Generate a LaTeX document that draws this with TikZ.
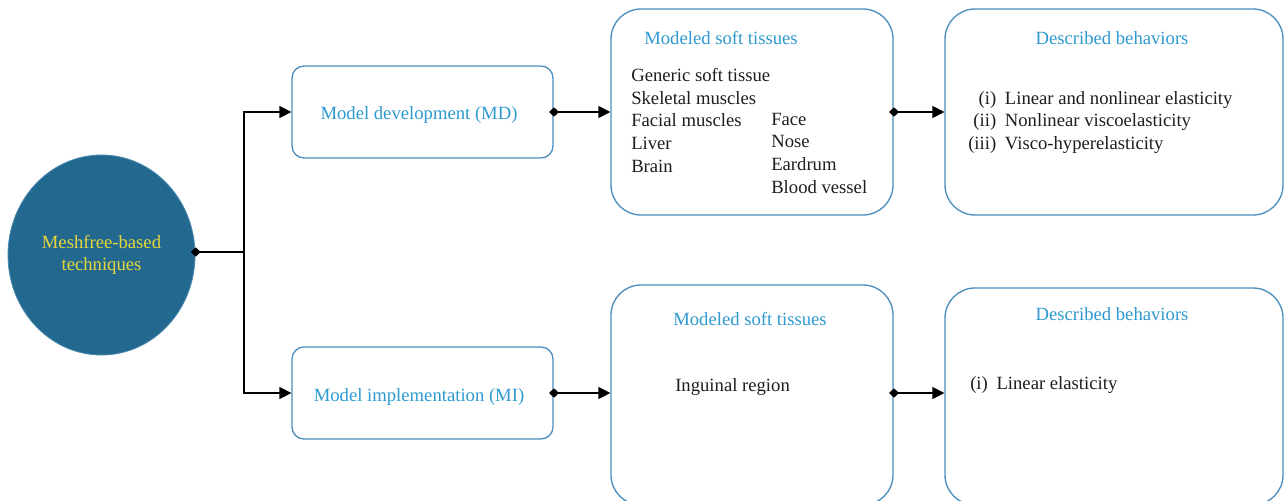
\documentclass[tikz,border=0pt]{standalone}
\usepackage{fontspec}
\setmainfont{Liberation Serif}
\usetikzlibrary{arrows.meta,shapes.geometric}
\definecolor{ellfill}{HTML}{23698F}
\definecolor{ellline}{HTML}{4A8AB0}
\definecolor{ylw}{HTML}{E6D63C}
\definecolor{ttl}{HTML}{2E9AD0}
\definecolor{boxline}{HTML}{4C8EBE}
\definecolor{txt}{HTML}{1E1E1E}
\tikzset{
  txtfont/.style={font=\fontsize{14}{17}\selectfont},
  roundbox/.style={draw=boxline, line width=1pt, fill=white, inner sep=0pt},
  smallbox/.style={roundbox, rounded corners=9pt, minimum width=195.75pt, minimum height=69pt},
  bigbox/.style={roundbox, rounded corners=22.5pt},
  ttltext/.style={txtfont, text=ttl, inner sep=0pt, anchor=base},
  bodytext/.style={txtfont, text=txt, inner sep=0pt, anchor=base west},
  conn/.style={draw=black, line width=1.1pt, {Diamond[length=7.5pt,width=7pt]}-{Triangle[length=9pt,width=9pt]}, shorten <=-3.5pt},
  trunk/.style={draw=black, line width=1.1pt},
  branch/.style={draw=black, line width=1.1pt, -{Triangle[length=9pt,width=9pt]}},
}
\begin{document}
\begin{tikzpicture}[x=0.75pt,y=-0.75pt]
\useasboundingbox (0,0) rectangle (1284,500);
\clip (0,0) rectangle (1284,500);
% ellipse
\node[ellipse, fill=ellfill, draw=ellline, line width=0.6pt, minimum width=140.25pt, minimum height=150pt, inner sep=0pt, text=ylw, align=center, txtfont] (ell) at (101.5,255) {Meshfree-based\\techniques};
% small boxes
\node[smallbox] (md) at (422.5,112) {};
\node[smallbox] (mi) at (422.5,393) {};
\node[ttltext] (mdtext) at (419,119) {Model development (MD)};
\node[ttltext] (mitext) at (419,401) {Model implementation (MI)};
% big boxes
\node[bigbox, minimum width=211.5pt, minimum height=154.5pt] (tis1) at (752,112) {};
\node[bigbox, minimum width=253.5pt, minimum height=154.5pt] (beh1) at (1114,112) {};
\node[bigbox, minimum width=211.5pt, minimum height=165pt] (tis2) at (752,395) {};
\node[bigbox, minimum width=253.5pt, minimum height=162.75pt] (beh2) at (1114,396.5) {};
% texts top tissues
\node[ttltext] (t1title) at (721,44) {Modeled soft tissues};
\node[bodytext] (t1left) at (631,81.5) {\begin{tabular}[t]{@{}l@{}}Generic soft tissue\\Skeletal muscles\\Facial muscles\\Liver\\Brain\end{tabular}};
\node[bodytext] (t1right) at (771,125) {\begin{tabular}[t]{@{}l@{}}Face\\Nose\\Eardrum\\Blood vessel\end{tabular}};
% texts top behaviors
\node[ttltext] (b1title) at (1112,44) {Described behaviors};
\node[bodytext] (b1list) at (968,104) {\begin{tabular}[t]{@{}r@{\hspace{6.5pt}}l@{}}(i)&Linear and nonlinear elasticity\\(ii)&Nonlinear viscoelasticity\\(iii)&Visco-hyperelasticity\end{tabular}};
% texts bottom
\node[ttltext] (t2title) at (750,325) {Modeled soft tissues};
\node[bodytext] (t2list) at (675,391) {Inguinal region};
\node[ttltext] (b2title) at (1112,320) {Described behaviors};
\node[bodytext] (b2list) at (970,389) {(i)\hspace{6.5pt}Linear elasticity};
% connectors
\coordinate (j) at (244,252);
\draw[trunk, {Diamond[length=7.5pt,width=7pt]}-, shorten <=-3.5pt] (j -| ell.east) -- (j);
\draw[branch] (j) |- (md.west);
\draw[branch] (j) |- (mi.west);
\draw[conn] (md.east) -- (md.east -| tis1.west);
\draw[conn] (md.east -| tis1.east) -- (md.east -| beh1.west);
\draw[conn] (mi.east) -- (mi.east -| tis2.west);
\draw[conn] (mi.east -| tis2.east) -- (mi.east -| beh2.west);
\end{tikzpicture}
\end{document}
